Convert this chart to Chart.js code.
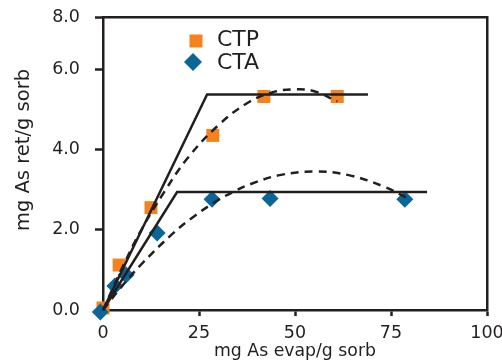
<!DOCTYPE html>
<html>
<head>
<meta charset="utf-8">
<script src="https://cdn.jsdelivr.net/npm/chart.js@4/dist/chart.umd.min.js"></script>
<style>
  html, body { margin: 0; padding: 0; background: #fff; }
  #wrap { width: 502px; height: 363px; }
</style>
</head>
<body>
<div id="wrap"><canvas id="c"></canvas></div>
<script>
// measured points
const ctpEvap = [0, 4.2, 12.5, 28.6, 41.9, 61];
const ctpRet = [0.05, 1.12, 2.55, 4.35, 5.32, 5.32];
const ctaEvap = [-0.7, 3.1, 6.0, 14.1, 28.4, 43.5, 78.6];
const ctaRet = [-0.05, 0.6, 0.87, 1.92, 2.76, 2.78, 2.76];

// two-segment fits (solid)
const ctpFitX = [0, 27.1, 69];
const ctpFitY = [0, 5.37, 5.37];
const ctaFitX = [0, 19.3, 84.4];
const ctaFitY = [0, 2.94, 2.94];

// fitted curves (dashed)
const ctpCurveX = [0, 5, 10, 16, 22, 30, 37.5, 44, 50, 55, 61];
const ctpCurveY = [0, 1.05, 2.0, 2.95, 3.78, 4.6, 5.15, 5.42, 5.5, 5.45, 5.2];
const ctaCurveX = [0, 5, 10, 18, 23.5, 30, 34.5, 38.5, 46, 55, 64, 73, 79];
const ctaCurveY = [0, 0.6, 1.14, 1.89, 2.32, 2.74, 2.97, 3.14, 3.36, 3.45, 3.36, 3.08, 2.8];

const xTicks = [0, 25, 50, 75, 100];
const yTicks = [0, 2, 4, 6, 7.3];
const yTickLabels = ["0.0", "2.0", "4.0", "6.0", "8.0"];

const ink = "#231f20";
const orange = "#f4831f";
const blue = "#0b6596";
const face = "'DejaVu Sans', sans-serif";

const pts = (xs, ys) => xs.map((x, i) => ({ x, y: ys[i] }));

const markers = (label, xs, ys, color, style, radius, order) => ({
  label,
  data: pts(xs, ys),
  showLine: false,
  pointStyle: style,
  pointRadius: radius,
  pointHoverRadius: radius,
  pointBackgroundColor: color,
  pointBorderWidth: 0,
  borderColor: color,
  clip: false,
  order,
});

const line = (xs, ys, dash) => ({
  data: pts(xs, ys),
  showLine: true,
  borderColor: ink,
  borderWidth: 2.5,
  borderDash: dash,
  tension: dash.length ? 0.4 : 0,
  pointRadius: 0,
  fill: false,
  clip: false,
  order: 0,
});

// y title + legend
const overlay = {
  id: "overlay",
  afterDraw(chart) {
    const { ctx, chartArea } = chart;
    ctx.save();
    ctx.fillStyle = ink;
    ctx.font = `19.5px ${face}`;
    ctx.textAlign = "center";
    ctx.textBaseline = "middle";
    ctx.translate(24, 150);
    ctx.rotate(-Math.PI / 2);
    ctx.fillText("mg As ret/g sorb", 0, 0);
    ctx.restore();

    const lx = chartArea.left + 92;
    const ly = chartArea.top + 24;
    ctx.save();
    ctx.fillStyle = orange;
    Chart.helpers.drawPoint(ctx, { pointStyle: "rect", radius: 9.2, borderWidth: 0 }, lx + 1, ly);
    ctx.fillStyle = blue;
    Chart.helpers.drawPoint(ctx, { pointStyle: "rectRot", radius: 9, borderWidth: 0 }, lx - 2, ly + 21);
    ctx.fillStyle = ink;
    ctx.font = `22px ${face}`;
    ctx.textAlign = "left";
    ctx.textBaseline = "middle";
    ctx.fillText("CTP", lx + 22, ly - 1);
    ctx.fillText("CTA", lx + 22, ly + 22);
    ctx.restore();
  },
};

const hiddenAxis = (position, fit) => ({
  type: "linear",
  position,
  min: 0,
  max: 100,
  grid: { display: false },
  ticks: { display: false },
  border: { display: true, color: ink, width: 2.5 },
  afterFit: fit,
});

new Chart(document.getElementById("c"), {
  type: "scatter",
  data: {
    datasets: [
      line(ctpFitX, ctpFitY, []),
      line(ctaFitX, ctaFitY, []),
      line(ctpCurveX, ctpCurveY, [8, 6]),
      line(ctaCurveX, ctaCurveY, [8, 6]),
      markers("CTA", ctaEvap, ctaRet, blue, "rectRot", 8.5, 1),
      markers("CTP", ctpEvap, ctpRet, orange, "rect", 9.2, 2),
    ],
  },
  options: {
    responsive: true,
    maintainAspectRatio: false,
    animation: false,
    layout: { padding: 0 },
    plugins: { legend: { display: false }, tooltip: { enabled: false } },
    scales: {
      x: {
        type: "linear",
        position: "bottom",
        min: 0,
        max: 100,
        afterBuildTicks: (s) => { s.ticks = xTicks.map((v) => ({ value: v })); },
        afterFit: (s) => { s.height = 53; s.paddingLeft = 0; s.paddingRight = 0; },
        grid: { display: true, drawOnChartArea: false, drawTicks: true, tickLength: 6, tickWidth: 2.5, tickColor: ink },
        border: { display: true, color: ink, width: 2.5 },
        ticks: { color: ink, font: { family: face, size: 17.5 }, padding: 7, maxRotation: 0 },
        title: {
          display: true,
          text: "mg As evap/g sorb",
          color: ink,
          font: { family: face, size: 17.3 },
          padding: { top: 0, bottom: 1 },
        },
      },
      y: {
        type: "linear",
        position: "left",
        min: 0,
        max: 7.3,
        afterBuildTicks: (s) => { s.ticks = yTicks.map((v) => ({ value: v })); },
        afterFit: (s) => { s.width = 103; s.paddingTop = 0; s.paddingBottom = 0; },
        grid: { display: true, drawOnChartArea: false, drawTicks: true, tickLength: 8, tickWidth: 2.5, tickColor: ink },
        border: { display: true, color: ink, width: 2.5 },
        ticks: {
          color: ink,
          font: { family: face, size: 17.5 },
          padding: 15,
          callback: (v, i) => yTickLabels[i],
        },
      },
      x2: hiddenAxis("top", (s) => { s.height = 17; }),
      y2: hiddenAxis("right", (s) => { s.width = 15; }),
    },
  },
  plugins: [overlay],
});
</script>
</body>
</html>
